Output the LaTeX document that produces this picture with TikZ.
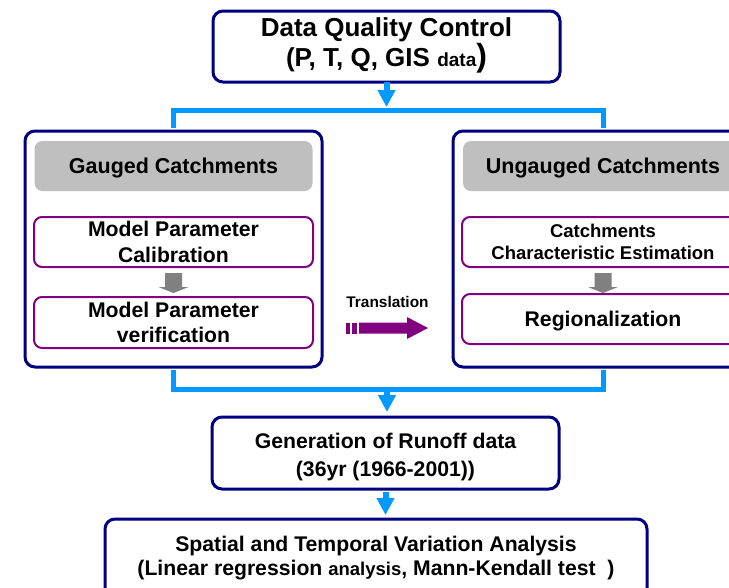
\documentclass[tikz,border=0pt]{standalone}
\usepackage{fontspec}
\setmainfont{Liberation Sans}
\usetikzlibrary{arrows.meta,calc}
\definecolor{navybox}{RGB}{0,0,128}
\definecolor{stepviolet}{RGB}{128,0,128}
\definecolor{flowblue}{RGB}{0,153,255}
\definecolor{hdrgray}{RGB}{191,191,191}
\definecolor{arrowgray}{RGB}{128,128,128}
\begin{document}
\begin{tikzpicture}[x=1pt,y=-1pt,
  navy/.style={draw=navybox, line width=3pt, rounded corners=10pt, fill=white,
    inner sep=0pt, outer sep=0pt, align=center},
  hdr/.style={fill=hdrgray, rounded corners=8pt, inner sep=0pt, text depth=0pt,
    font=\fontsize{21.5}{26}\selectfont\bfseries},
  stepbox/.style={draw=stepviolet, line width=2pt, rounded corners=8pt, fill=white,
    inner sep=0pt, align=center, font=\fontsize{21.2}{26}\selectfont\bfseries},
  flow/.style={draw=flowblue, line width=5pt, shorten <=3pt, shorten >=3pt},
  flowarrow/.style={draw=flowblue, line width=6pt, -{Triangle[width=17pt,length=17pt]}},
  graytip/.style={fill=arrowgray},
  violetarrow/.style={fill=stepviolet}
]
\path[use as bounding box] (0,0) rectangle (729,587);
\clip (0,0) rectangle (729,587);

% ---------- boxes ----------
\node[navy, minimum width=347pt, minimum height=71pt,
      font=\fontsize{26}{30}\selectfont\bfseries] (dqc) at (386.5,46.5)
  {Data Quality Control\\(P, T, Q, GIS {\fontsize{19}{19}\selectfont data}\raisebox{0pt}[0pt][8.5pt]{\fontsize{32}{32}\selectfont )}};

\node[navy, minimum width=297pt, minimum height=236pt] (gauged) at (173.5,249) {};
\node[navy, minimum width=300pt, minimum height=236pt] (ungauged) at (603,249) {};

\node[hdr, minimum width=278pt, minimum height=50pt] (ghdr) at (173.5,166) {Gauged Catchments};
\node[hdr, minimum width=280pt, minimum height=50pt] (uhdr) at (603,166) {Ungauged Catchments};

\node[stepbox, minimum width=279pt, minimum height=50pt] (cal) at (173.5,242)
  {Model Parameter\\Calibration};
\node[stepbox, minimum width=279pt, minimum height=51pt,
      font=\fontsize{21.2}{25}\selectfont\bfseries] (ver) at (173.5,322.5)
  {Model Parameter\\verification};
\node[stepbox, minimum width=282pt, minimum height=50pt,
      font=\fontsize{18.5}{22}\selectfont\bfseries] (cce) at (603,242)
  {Catchments\\Characteristic Estimation};
\node[stepbox, minimum width=282pt, minimum height=50pt, text depth=0pt] (reg) at (603,319)
  {Regionalization};

\node[navy, minimum width=347pt, minimum height=72pt,
      font=\fontsize{21.2}{28}\selectfont\bfseries] (gen) at (385.5,453)
  {\rule{0pt}{18pt}Generation of Runoff data\\\raisebox{0pt}[15pt][0pt]{(36yr (1966-2001))}};

\node[navy, minimum width=542pt, minimum height=79pt,
      font=\fontsize{21.2}{24}\selectfont\bfseries] (sta) at (376,558.5)
  {Spatial and Temporal Variation Analysis\\(Linear regression {\fontsize{18.5}{19}\selectfont analysis}, Mann-Kendall test\ \ )};

% ---------- blue connectors ----------
\coordinate (split) at (386.5,110);
\coordinate (merge) at (387,389);
\draw[flowarrow, shorten >=3pt] (dqc.south) -- (split);
\draw[flow] (gauged.north) |- (split) -| (ungauged.north);
\draw[flow] (gauged.south) |- (merge) -| (ungauged.south);
\draw[flowarrow, shorten >=5pt] (merge) -- (merge |- gen.north);
\draw[flowarrow, shorten <=3pt, shorten >=4pt] (gen.south) -- (gen.south |- sta.north);

% ---------- gray block arrows ----------
\fill[graytip, shift={(cal.south)}] (-8.5,5) -- (8.5,5) -- (8.5,19) -- (15,19) -- (0,25)
  -- (-15,19) -- (-8.5,19) -- cycle;
\fill[graytip, shift={(cce.south)}] (-8.5,5) -- (8.5,5) -- (8.5,19) -- (15,19) -- (0,25)
  -- (-15,19) -- (-8.5,19) -- cycle;

% ---------- translation arrow ----------
\node[anchor=base, inner sep=0pt, font=\fontsize{15.4}{18}\selectfont\bfseries] (transl)
  at (387.5,307) {Translation};
\coordinate (tr) at (346,328);
\fill[violetarrow, shift={(tr)}] (0,-5.5) rectangle (3.5,5.5);
\fill[violetarrow, shift={(tr)}] (5.5,-5.5) rectangle (11,5.5);
\fill[violetarrow, shift={(tr)}] (13,-5.5) -- (61,-5.5) -- (61,-11) -- (82,0) -- (61,11)
  -- (61,5.5) -- (13,5.5) -- cycle;
\end{tikzpicture}
\end{document}
